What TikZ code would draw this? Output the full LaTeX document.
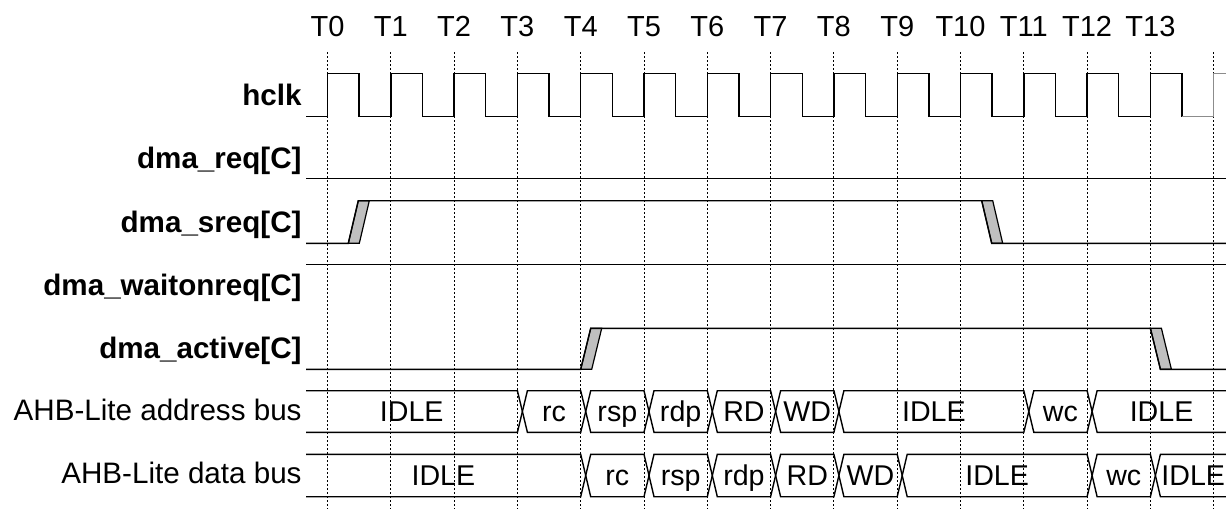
\documentclass[tikz,border=0pt]{standalone}
\usepackage{fontspec}
\setmainfont{Liberation Sans}

\begin{document}
\begin{tikzpicture}[
        x = 0.5pt, y = -0.5pt,
        sig/.style     = {line width=0.7pt, line join=miter},
        grid/.style    = {line width=0.5pt, dash pattern=on 1pt off 1pt},
        slew/.style    = {line width=0.6pt, fill=black!25},
        siglbl/.style  = {anchor=base east, inner sep=0pt, font=\fontsize{14.8}{17}\selectfont\bfseries},
        buslbl/.style  = {anchor=base east, inner sep=0pt, font=\fontsize{14.8}{17}\selectfont},
        ticklbl/.style = {anchor=base, inner sep=0pt, font=\fontsize{14.5}{17}\selectfont},
        bustxt/.style  = {anchor=base, inner sep=0pt, font=\fontsize{14.3}{17}\selectfont},
    ]
        \useasboundingbox (0,0) rectangle (1226,509);
        \def\tz{327.5}
        \def\per{63.3}

        %---- cycle marks ----
        \foreach \i in {0,...,14}
            \draw[grid] ({\tz+\per*\i},52) -- ({\tz+\per*\i},509);
        \foreach \i in {0,...,13}
            \node[ticklbl] (t\i) at ({\tz+\per*\i},36) {T\i};

        %---- signal names ----
        \node[siglbl] (lclk)  at (302,105)   {hclk};
        \node[siglbl] (lreq)  at (302,168)   {dma\_req[C]};
        \node[siglbl] (lsreq) at (302,232)   {dma\_sreq[C]};
        \node[siglbl] (lwait) at (302,295)   {dma\_waitonreq[C]};
        \node[siglbl] (lact)  at (302,358.3) {dma\_active[C]};
        \node[buslbl] (laddr) at (302,420)   {AHB-Lite address bus};
        \node[buslbl] (ldata) at (302,483.3) {AHB-Lite data bus};

        %---- hclk ----
        \draw[sig] (306,116.7) -- (\tz,116.7);
        \foreach \i in {0,...,12}
            \draw[sig] ({\tz+\per*\i},116.7) -- ++(0,-43.4) -- ++(31.65,0) -- ++(0,43.4) -- ++(31.65,0);
        \draw[sig] ({\tz+\per*13},116.7) -- ++(0,-43.4) -- ++(31.65,0) -- ++(0,43.4);
        \draw[sig, black!45] ({\tz+\per*13+31.65},116.7) -- ({\tz+\per*14},116.7) -- ++(0,-43.4) -- (1226,73.3);

        %---- dma_req / dma_waitonreq ----
        \draw[sig] (306,178.3) -- (1226,178.3);
        \draw[sig] (306,264.3) -- (1226,264.3);

        %---- dma_sreq ----
        \draw[slew] (348.3,243.3) -- (358.3,200.7) -- (369.3,200.7) -- (359.3,243.3) -- cycle;
        \draw[slew] (981.7,200.7) -- (992.7,200.7) -- (1002.7,243.3) -- (991.7,243.3) -- cycle;
        \draw[sig] (306,243.3) -- (348.3,243.3) -- (358.3,200.7) -- (981.7,200.7) -- (991.7,243.3) -- (1226,243.3);

        %---- dma_active ----
        \draw[slew] (580.7,369.3) -- (590.7,328.3) -- (601.7,328.3) -- (591.7,369.3) -- cycle;
        \draw[slew] (1150.4,328.3) -- (1161.4,328.3) -- (1171.4,369.3) -- (1160.4,369.3) -- cycle;
        \draw[sig] (306,369.3) -- (580.7,369.3) -- (590.7,328.3) -- (1150.4,328.3) -- (1160.4,369.3) -- (1226,369.3);

        %---- address bus ----
        \draw[sig] (306,390.7) -- ({\tz+\per*3},390.7) -- ({\tz+\per*3+5},411.5) -- ({\tz+\per*3},432.3) -- (306,432.3);
        \node[bustxt] (a0) at ({(306+\tz+\per*3)/2},421.5) {IDLE};
        \foreach \a/\b/\txt [count=\k] in {3/4/rc, 4/5/rsp, 5/6/rdp, 6/7/RD, 7/8/WD, 8/11/IDLE, 11/12/wc} {
            \draw[sig] ({\tz+\per*\a+5},411.5) -- ({\tz+\per*\a+10},390.7) -- ({\tz+\per*\b},390.7)
                -- ({\tz+\per*\b+5},411.5) -- ({\tz+\per*\b},432.3) -- ({\tz+\per*\a+10},432.3) -- cycle;
            \node[bustxt] (a\k) at ({\tz+\per*(\a+\b)/2+5},421.5) {\txt};
        }
        \draw[sig] (1226,390.7) -- ({\tz+\per*12+10},390.7) -- ({\tz+\per*12+5},411.5) -- ({\tz+\per*12+10},432.3) -- (1226,432.3);
        \node[bustxt] (a8) at ({(1226+\tz+\per*12+10)/2},421.5) {IDLE};

        %---- data bus ----
        \draw[sig] (306,454.3) -- ({\tz+\per*4},454.3) -- ({\tz+\per*4+5},475.5) -- ({\tz+\per*4},496.7) -- (306,496.7);
        \node[bustxt] (d0) at ({(306+\tz+\per*4)/2},485) {IDLE};
        \foreach \a/\b/\txt [count=\k] in {4/5/rc, 5/6/rsp, 6/7/rdp, 7/8/RD, 8/9/WD, 9/12/IDLE, 12/13/wc} {
            \draw[sig] ({\tz+\per*\a+5},475.5) -- ({\tz+\per*\a+10},454.3) -- ({\tz+\per*\b},454.3)
                -- ({\tz+\per*\b+5},475.5) -- ({\tz+\per*\b},496.7) -- ({\tz+\per*\a+10},496.7) -- cycle;
            \node[bustxt] (d\k) at ({\tz+\per*(\a+\b)/2+5},485) {\txt};
        }
        \draw[sig] (1226,454.3) -- ({\tz+\per*13+10},454.3) -- ({\tz+\per*13+5},475.5) -- ({\tz+\per*13+10},496.7) -- (1226,496.7);
        \node[bustxt] (d8) at ({(1226+\tz+\per*13+10)/2},485) {IDLE};
    \end{tikzpicture}
\end{document}
